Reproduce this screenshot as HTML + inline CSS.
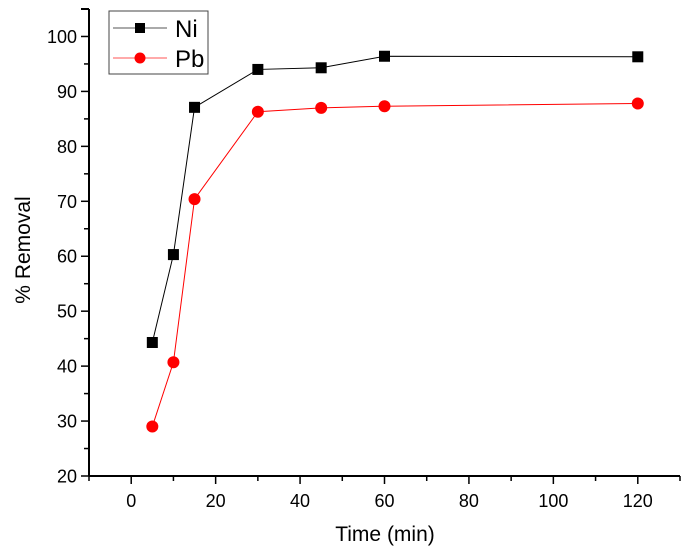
<!DOCTYPE html>
<html><head><meta charset="utf-8"><style>
body{margin:0;background:#fff;}
text{font-family:"Liberation Sans",Arial,sans-serif;}
</style></head><body>
<svg id="chart" width="689" height="555" xmlns="http://www.w3.org/2000/svg">
<g id="axes"></g><g id="series"></g>
<g>
<rect x="109" y="11" width="99" height="63" fill="#fff" stroke="#444" stroke-width="1"/>
<line x1="113" y1="28" x2="167" y2="28" stroke="#555" stroke-width="1"/>
<rect x="135" y="23" width="10" height="10" fill="#000"/>
<text x="175" y="37" font-size="24">Ni</text>
<line x1="113" y1="58" x2="167" y2="58" stroke="#f55" stroke-width="1"/>
<circle cx="140" cy="58" r="5.5" fill="#f00"/>
<text x="175" y="67" font-size="24">Pb</text>
</g>
</svg>
<script>
const times=[5,10,15,30,45,60,120];
const niValues=[44.3,60.3,87.1,94.0,94.3,96.4,96.3];
const pbValues=[29.0,40.7,70.4,86.3,87.0,87.3,87.8];
const xTicks=[0,20,40,60,80,100,120];
const yTicks=[20,30,40,50,60,70,80,90,100];
const NS="http://www.w3.org/2000/svg";
const X0=89,X1=680,Y0=476,Y1=9,xmin=-10,xmax=130,ymin=20,ymax=105;
const xs=v=>X0+(v-xmin)/(xmax-xmin)*(X1-X0);
const ys=v=>Y0-(v-ymin)/(ymax-ymin)*(Y0-Y1);
function mk(t,a,p){const e=document.createElementNS(NS,t);for(const k in a)e.setAttribute(k,a[k]);p.appendChild(e);return e;}
const ax=document.getElementById('axes'),se=document.getElementById('series');
const ya=mk('line',{x1:X0,y1:Y1,x2:X0,y2:Y0,stroke:'#000','stroke-width':2},ax);


const xa=mk('line',{x1:X0,y1:Y0,x2:X1,y2:Y0,stroke:'#000','stroke-width':2},ax);


mk('line',{x1:X0-8,y1:Y1,x2:X0,y2:Y1,stroke:'#000','stroke-width':2},ax);
for(let v=-10;v<=130;v+=10){const x=xs(v);mk('line',{x1:x,y1:Y0,x2:x,y2:Y0+(v%20===0?8:5),stroke:'#000','stroke-width':1.5},ax);}
for(let v=20;v<=105;v+=5){const y=ys(v);mk('line',{x1:X0-(v%10===0?8:5),y1:y,x2:X0,y2:y,stroke:'#000','stroke-width':1.5},ax);}
xTicks.forEach(v=>{const t=mk('text',{x:xs(v),y:Y0+31,'text-anchor':'middle','font-size':18},ax);t.textContent=v;

});
yTicks.forEach(v=>{const t=mk('text',{x:X0-12,y:ys(v)+6.5,'text-anchor':'end','font-size':18},ax);t.textContent=v;

});
const xt=mk('text',{x:385,y:541,'text-anchor':'middle','font-size':21},ax);xt.textContent='Time (min)';


const yt=mk('text',{x:0,y:0,'text-anchor':'middle','font-size':21,transform:'translate(30,250) rotate(-90)'},ax);yt.textContent='% Removal';


function series(vals,color,shape,name){
 const pl=mk('polyline',{points:times.map((t,i)=>xs(t)+','+ys(vals[i])).join(' '),fill:'none',stroke:color,'stroke-width':1},se);
 
 
 times.forEach((t,i)=>{let m;
  if(shape==='sq')m=mk('rect',{x:xs(t)-5.5,y:ys(vals[i])-5.5,width:11,height:11,fill:color},se);
  else m=mk('circle',{cx:xs(t),cy:ys(vals[i]),r:6,fill:color},se);
  
  });
}
series(niValues,'#000','sq','ni');
series(pbValues,'#f00','ci','pb');
</script>
</body></html>
